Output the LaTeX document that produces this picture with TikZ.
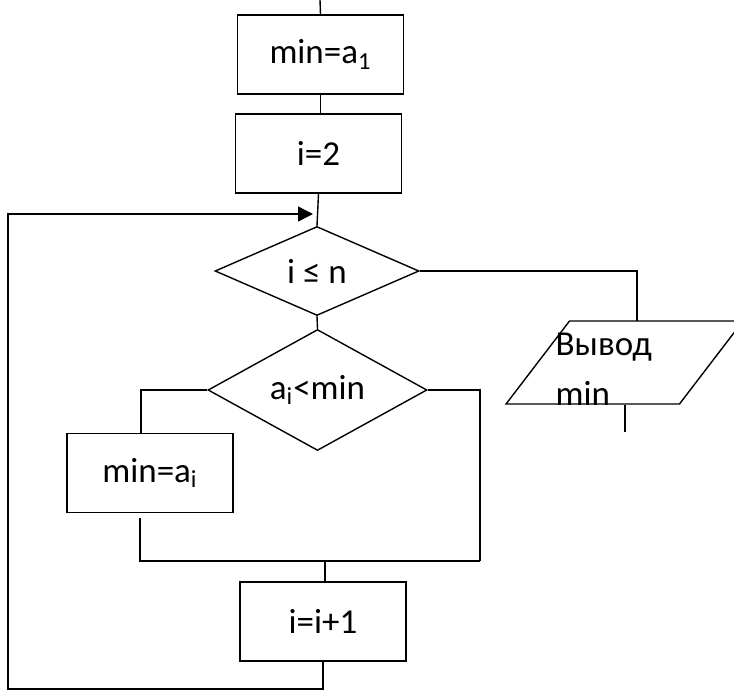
\documentclass[tikz,border=0pt]{standalone}
\usepackage{fontspec}
\setmainfont{Carlito}
\usetikzlibrary{shapes.geometric,arrows.meta}

\begin{document}
\begin{tikzpicture}[x=0.5pt,y=-0.5pt,line width=0.7pt,
  txt/.style={font=\fontsize{17.5}{25}\selectfont},
  box/.style={draw,rectangle,txt,inner sep=0pt,minimum width=83pt,minimum height=39.5pt},
  cond/.style={draw,diamond,txt,inner sep=0pt,aspect=2}]

\useasboundingbox[fill=white] (0,0) rectangle (734,691);

\node[box] (init) at (320.5,54.5) {min=a\textsubscript{1}};
\node[box] (start) at (318.5,153.5) {i=2};
\node[cond,minimum width=102pt,minimum height=44.5pt] (check) at (317,271) {i ≤ n};
\node[cond,minimum width=109.5pt,minimum height=60.5pt] (less) at (317.5,390) {a\textsubscript{i}<min};
\node[box] (assign) at (150,473) {min=a\textsubscript{i}};
\node[box] (incr) at (323,621.5) {i=i+1};
\node[draw,trapezium,trapezium left angle=60,trapezium right angle=120,
  trapezium stretches=true,minimum width=118.5pt,minimum height=41.5pt] (out) at (624.5,362.5) {};
\node[txt,align=left,inner sep=0pt,anchor=base west] (outtext) at (555,405) {Вывод\\min};

\coordinate (top) at (320,0);
\coordinate (yes) at (637,321);
\coordinate (stop) at (625,432);
\coordinate (join) at (480,561);
\coordinate (corner) at (8,689);
\coordinate (entry) at (313,214);

\draw (top) -- (init.north);
\draw (init.south) -- (init.south |- start.north);
\draw (start.south) -- (check.north);
\draw (check.east) -| (yes);
\draw (stop |- out.south) -- (stop);
\draw (check.south) -- (less.north);
\draw (less.west) -| ([xshift=-4.5pt]assign.north);
\draw (less.east) -| (join);
\draw ([xshift=-5pt,yshift=-2.5pt]assign.south) |- (join);
\draw ([xshift=1pt]incr.north |- join) -- ([xshift=1pt]incr.north);
\draw[-{Triangle[length=7.5pt,width=7.5pt]}] (incr.south) |- (corner) |- (entry);
\end{tikzpicture}
\end{document}
